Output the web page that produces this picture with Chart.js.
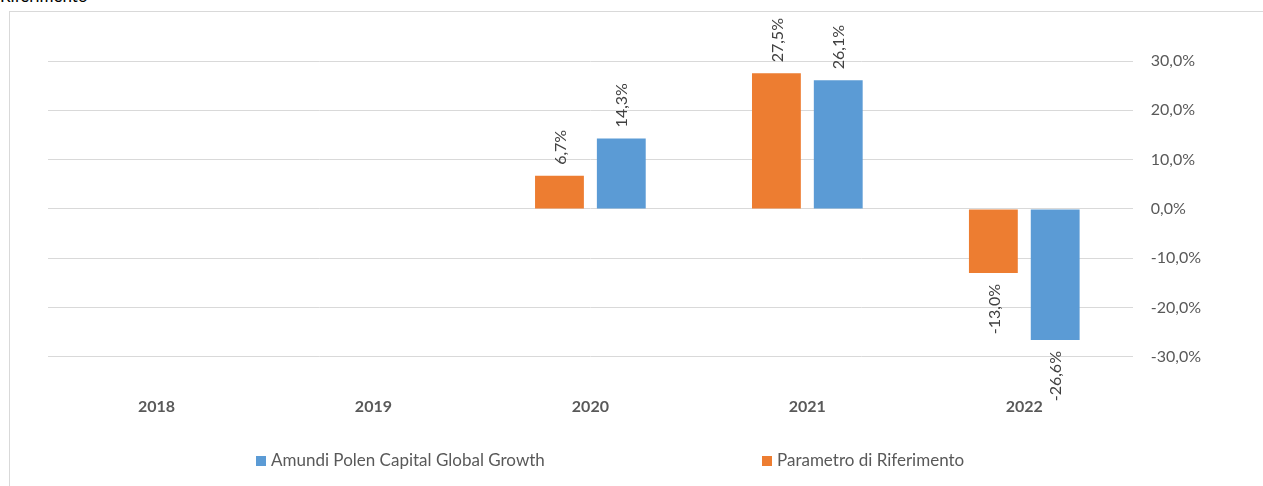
<!DOCTYPE html>
<html>
<head>
<meta charset="utf-8">
<script src="https://cdn.jsdelivr.net/npm/chart.js@4/dist/chart.umd.min.js"></script>
<style>
  html, body { margin: 0; padding: 0; background: #ffffff; overflow: hidden; }
  #frame { position: absolute; left: 9px; top: 11px; width: 1300px; height: 500px;
           border-left: 1px solid #d9d9d9; border-top: 1px solid #d9d9d9; }
  #title { position: absolute; left: 0px; top: -13px; font-family: Lato, sans-serif;
           font-size: 17px; line-height: 17px; color: #000; white-space: nowrap; }
  #wrap { position: absolute; left: 0; top: 0; width: 1263px; height: 486px; }
</style>
</head>
<body>
<div id="frame"></div>
<div id="title">Riferimento</div>
<div id="wrap"><canvas id="c" width="1263" height="486"></canvas></div>
<script>
// ---- data ----
const categories = ["2018", "2019", "2020", "2021", "2022"];
const benchmarkLabel = "Parametro di Riferimento";
const benchmarkValues = [null, null, 6.7, 27.5, -13.0];
const fundLabel = "Amundi Polen Capital Global Growth";
const fundValues = [null, null, 14.3, 26.1, -26.6];
const yTicks = [-30, -20, -10, 0, 10, 20, 30];

const ORANGE = "#ED7D31";
const BLUE = "#5B9BD5";
const FONT = "Lato, 'Open Sans', sans-serif";

function fmt(v) { return v.toFixed(1).replace(".", ",") + "%"; }

const dataLabels = {
  id: "dataLabels",
  afterDatasetsDraw(chart) {
    const ctx = chart.ctx;
    ctx.save();
    ctx.font = "16px " + FONT;
    ctx.fillStyle = "#404040";
    ctx.textBaseline = "middle";
    chart.data.datasets.forEach((ds, di) => {
      const meta = chart.getDatasetMeta(di);
      meta.data.forEach((el, i) => {
        const v = ds.data[i];
        if (v === null || v === undefined) return;
        const gap = 11;
        ctx.save();
        if (v >= 0) {
          ctx.translate(el.x + 1, el.y - gap);
          ctx.rotate(-Math.PI / 2);
          ctx.textAlign = "left";
        } else {
          ctx.translate(el.x + 1, el.y + gap);
          ctx.rotate(-Math.PI / 2);
          ctx.textAlign = "right";
        }
        ctx.fillText(fmt(v), 0, 0);
        ctx.restore();
      });
    });
    ctx.restore();
  }
};

const customLegend = {
  id: "customLegend",
  afterDraw(chart) {
    const ctx = chart.ctx;
    const order = [1, 0];
    const starts = [256, 762];
    const yc = 461;
    ctx.save();
    ctx.font = "17px " + FONT;
    ctx.textBaseline = "middle";
    ctx.textAlign = "left";
    order.forEach((di, k) => {
      const ds = chart.data.datasets[di];
      ctx.fillStyle = ds.backgroundColor;
      ctx.fillRect(starts[k], yc - 5, 10, 10);
      ctx.fillStyle = "#595959";
      ctx.fillText(ds.label, starts[k] + 15, yc);
    });
    ctx.restore();
  }
};

new Chart(document.getElementById("c"), {
  type: "bar",
  data: {
    labels: categories,
    datasets: [
      { label: benchmarkLabel, data: benchmarkValues, backgroundColor: ORANGE, borderWidth: 0 },
      { label: fundLabel, data: fundValues, backgroundColor: BLUE, borderWidth: 0 }
    ]
  },
  options: {
    responsive: false,
    animation: false,
    categoryPercentage: 0.57,
    barPercentage: 0.79,
    layout: { padding: { left: 48, top: 61, right: 44, bottom: 30 } },
    plugins: {
      legend: { display: false },
      tooltip: { enabled: false }
    },
    scales: {
      x: {
        grid: { display: false, drawTicks: false },
        border: { display: false },
        ticks: { color: "#595959", font: { family: FONT, size: 16, weight: "bold" }, padding: 40 }
      },
      y: {
        position: "right",
        min: -30, max: 30,
        afterBuildTicks(scale) { scale.ticks = yTicks.map(v => ({ value: v })); },
        grid: { color: "#d9d9d9", lineWidth: 1, drawTicks: false },
        border: { display: false },
        ticks: { color: "#595959", font: { family: FONT, size: 16 }, padding: 18, callback: v => fmt(v) }
      }
    }
  },
  plugins: [dataLabels, customLegend]
});
</script>
</body>
</html>
